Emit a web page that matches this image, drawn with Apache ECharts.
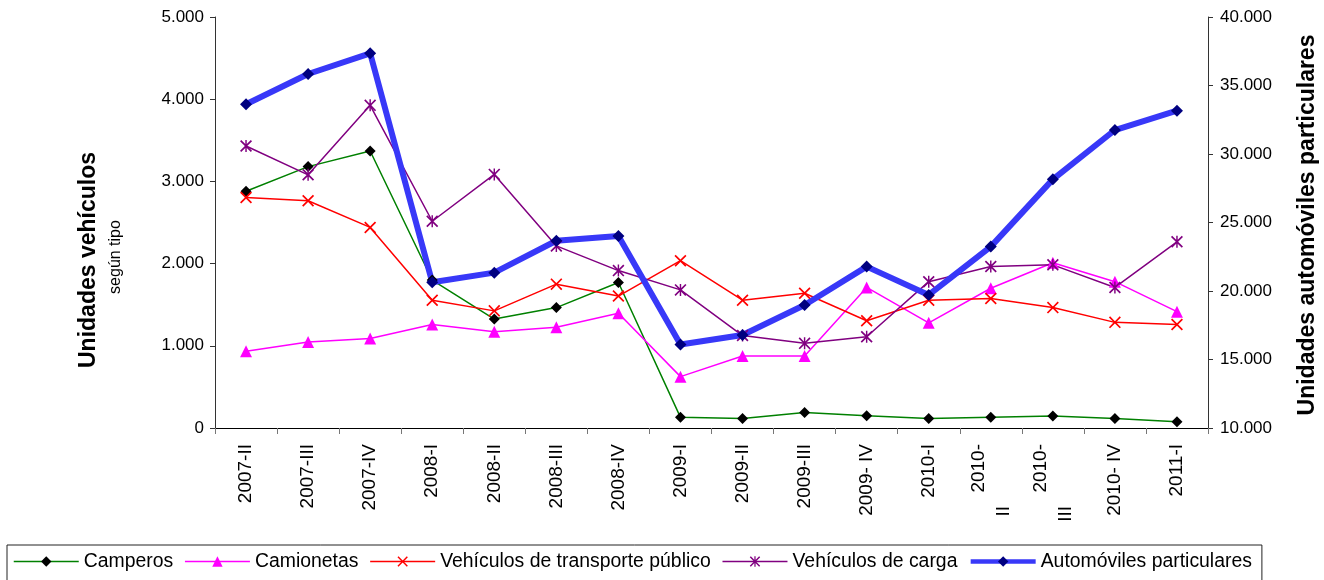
<!DOCTYPE html>
<html>
<head>
<meta charset="utf-8">
<script src="https://cdn.jsdelivr.net/npm/echarts@6/dist/echarts.min.js"></script>
<style>
html,body{margin:0;padding:0;background:#fff;}
#chart{width:1324px;height:580px;}
</style>
</head>
<body>
<div id="chart"></div>
<script>
const categories = ["2007-II","2007-III","2007-IV","2008-I","2008-II","2008-III","2008-IV","2009-I","2009-II","2009-III","2009- IV","2010-I","2010-\nII","2010-\nIII","2010- IV","2011-I"];
const camperos = [2880, 3180, 3370, 1800, 1325, 1465, 1770, 130, 115, 190, 150, 115, 130, 145, 115, 75];
const camionetas = [935, 1045, 1090, 1260, 1170, 1225, 1395, 625, 875, 875, 1710, 1280, 1700, 2010, 1780, 1415];
const transportePublico = [2805, 2765, 2440, 1555, 1425, 1750, 1605, 2035, 1555, 1640, 1305, 1555, 1575, 1465, 1285, 1260];
const carga = [3430, 3080, 3925, 2515, 3085, 2215, 1915, 1680, 1125, 1030, 1110, 1780, 1965, 1985, 1710, 2265];
const automoviles = [33630, 35840, 37350, 20635, 21340, 23670, 24020, 16100, 16790, 18980, 21780, 19710, 23240, 28150, 31750, 33160];
const seriesNames = ["Camperos","Camionetas","Vehículos de transporte público","Vehículos de carga","Automóviles particulares"];
const leftTitle = "Unidades vehículos";
const leftSubtitle = "según tipo";
const rightTitle = "Unidades automóviles particulares";

const FONT = "'Liberation Sans', Arial, sans-serif";
const fmt = v => String(v).replace(/\B(?=(\d{3})+(?!\d))/g, '.');
const DIAMOND = 'path://M5,0L10,5L5,10L0,5Z';
const XMARK = 'path://M1,0L5,4L9,0L10,1L6,5L10,9L9,10L5,6L1,10L0,9L4,5L0,1Z';
const ASTER = 'path://M1,0L5,4L9,0L10,1L6,5L10,9L9,10L5,6L1,10L0,9L4,5L0,1ZM4.4,0L5.6,0L5.6,10L4.4,10Z';

const lineColors = ['#008000','#FF00FF','#FF0000','#800080','#3838F8'];
const lineWidths = [1.5,1.5,1.5,1.5,6];
const legendWidths = [1.5,1.5,1.5,1.5,4.5];

const chart = echarts.init(document.getElementById('chart'), null, {renderer:'canvas'});
chart.setOption({
  animation:false,
  backgroundColor:'#fff',
  textStyle:{fontFamily:FONT},
  grid:{left:215, right:116, top:17, bottom:152, containLabel:false},
  xAxis:{
    type:'category', data:categories, boundaryGap:true,
    axisLine:{lineStyle:{color:'#000', width:1}},
    axisTick:{show:true, length:6, lineStyle:{color:'#777'}},
    axisLabel:{
      rotate:90, interval:0, margin:16, fontSize:19, color:'#000', fontFamily:FONT, lineHeight:25,
      formatter: v => v.indexOf('\n') >= 0 ? v.split('\n').map((s,i)=> i ? '{b|' + s + '}' : s).join('\n') : v,
      rich:{ b:{fontSize:19, fontFamily:FONT, color:'#000', padding:[0,62,0,0], lineHeight:25} }
    },
    splitLine:{show:false}
  },
  yAxis:[
    {type:'value', min:0, max:5000, interval:1000, position:'left',
     axisLine:{show:true, lineStyle:{color:'#333'}},
     axisTick:{show:true, length:5, lineStyle:{color:'#333'}},
     axisLabel:{fontSize:17, color:'#000', margin:11, formatter:fmt, fontFamily:FONT},
     splitLine:{show:false}},
    {type:'value', min:10000, max:40000, interval:5000, position:'right',
     axisLine:{show:true, lineStyle:{color:'#333'}},
     axisTick:{show:true, length:5, lineStyle:{color:'#333'}},
     axisLabel:{fontSize:17, color:'#000', margin:12, formatter:fmt, fontFamily:FONT},
     splitLine:{show:false}}
  ],
  legend:{
    left:7, top:545, orient:'horizontal',
    padding:[7,10,20,6], itemGap:11, itemWidth:65, itemHeight:13,
    borderColor:'#222', borderWidth:1,
    textStyle:{fontSize:19.4, color:'#000', fontFamily:FONT},
    data:seriesNames.map((n,i)=>({name:n, lineStyle:{width:legendWidths[i], color:lineColors[i]}}))
  },
  graphic:[
    {type:'text', x:89, y:260, rotation:Math.PI/2, style:{text:leftTitle, font:"bold 23px 'Liberation Sans', Arial, sans-serif", fill:'#000', align:'center', verticalAlign:'middle', textAlign:'center', textVerticalAlign:'middle'}},
    {type:'text', x:116, y:257, rotation:Math.PI/2, style:{text:leftSubtitle, font:"16px 'Liberation Sans', Arial, sans-serif", fill:'#000', align:'center', verticalAlign:'middle', textAlign:'center', textVerticalAlign:'middle'}},
    {type:'text', x:1308, y:225, rotation:Math.PI/2, style:{text:rightTitle, font:"bold 23px 'Liberation Sans', Arial, sans-serif", fill:'#000', align:'center', verticalAlign:'middle', textAlign:'center', textVerticalAlign:'middle'}}
  ],
  series:[
    {name:seriesNames[0], type:'line', yAxisIndex:0, data:camperos, symbol:DIAMOND, symbolSize:11,
     lineStyle:{color:lineColors[0], width:lineWidths[0]}, itemStyle:{color:'#000'}},
    {name:seriesNames[1], type:'line', yAxisIndex:0, data:camionetas, symbol:'triangle', symbolSize:12,
     lineStyle:{color:lineColors[1], width:lineWidths[1]}, itemStyle:{color:'#FF00FF'}},
    {name:seriesNames[2], type:'line', yAxisIndex:0, data:transportePublico, symbol:XMARK, symbolSize:12,
     lineStyle:{color:lineColors[2], width:lineWidths[2]}, itemStyle:{color:'#FF0000'}},
    {name:seriesNames[3], type:'line', yAxisIndex:0, data:carga, symbol:ASTER, symbolSize:12,
     lineStyle:{color:lineColors[3], width:lineWidths[3]}, itemStyle:{color:'#800080'}},
    {name:seriesNames[4], type:'line', yAxisIndex:1, data:automoviles, symbol:DIAMOND, symbolSize:12,
     lineStyle:{color:lineColors[4], width:lineWidths[4]}, itemStyle:{color:'#000080'}}
  ]
});
</script>
</body>
</html>
